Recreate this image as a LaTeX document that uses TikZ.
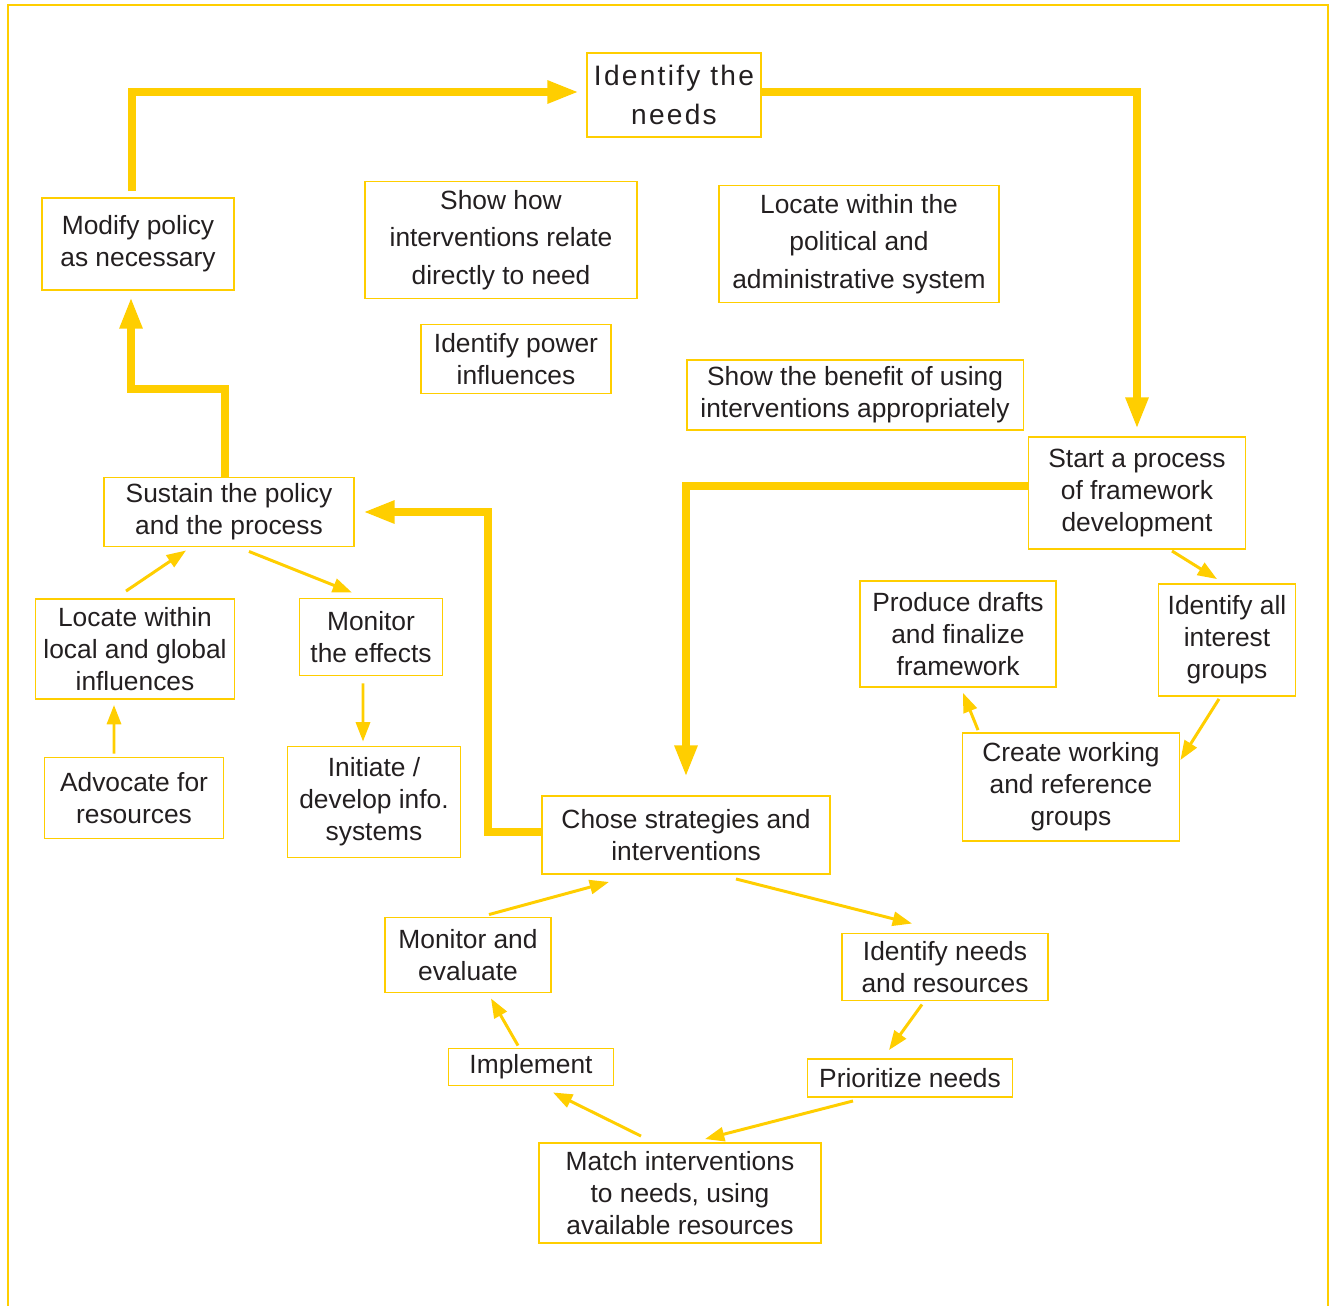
\documentclass[tikz,border=0pt]{standalone}
\usepackage{fontspec}
\setmainfont{Liberation Sans}
\newfontfamily\spacedfont[LetterSpace=8]{Liberation Sans}
\usetikzlibrary{arrows.meta, positioning}
\definecolor{gold}{RGB}{255,206,0}
\definecolor{ink}{RGB}{35,31,32}

\begin{document}
\begin{tikzpicture}[x=0.02cm, y=-0.02cm]
    % Define the style for the boxes and arrows
    \tikzset{
        stepbox/.style={rectangle, draw=gold, line width=1.1pt, inner sep=0pt, text=ink, align=center, font=\fontsize{15}{18.2}\selectfont},
        widebox/.style={stepbox, font=\fontsize{15}{21.3}\selectfont},
        mainflow/.style={draw=gold, line width=4.5pt, -{Triangle[length=18pt, width=12pt]}},
        subflow/.style={draw=gold, line width=1.7pt, -{Triangle[length=11pt, width=8pt]}}
    }
    \useasboundingbox (0,0) rectangle (1330,1306);

    % Draw the frame
    \draw[gold, line width=1.6pt] (8,1306) -- (8,5) -- (1328,5) -- (1328,1306);

    % Draw the main cycle boxes
    \node[stepbox, minimum width=3.48cm, minimum height=1.68cm, font=\spacedfont\fontsize{16}{21.7}\selectfont] (needs) at (674,95) {Identify the\\needs};
    \node[stepbox, minimum width=3.84cm, minimum height=1.84cm] (modify) at (138,244) {Modify policy\\as necessary};
    \node[stepbox, minimum width=4.34cm, minimum height=2.24cm] (start) at (1137,493) {Start a process\\of framework\\development};
    \node[stepbox, minimum width=5.0cm, minimum height=1.38cm] (sustain) at (229,512) {Sustain the policy\\and the process};
    \node[stepbox, minimum width=5.76cm, minimum height=1.56cm] (chose) at (686,835) {Chose strategies and\\interventions};

    % Draw the free standing boxes
    \node[widebox, minimum width=5.44cm, minimum height=2.34cm] (showhow) at (501,240) {Show how\\interventions relate\\directly to need};
    \node[widebox, minimum width=5.6cm, minimum height=2.34cm] (locatepol) at (859,244) {Locate within the\\political and\\administrative system};
    \node[stepbox, minimum width=3.8cm, minimum height=1.38cm] (power) at (516,359) {Identify power\\influences};
    \node[stepbox, minimum width=6.74cm, minimum height=1.4cm] (benefit) at (855,395) {Show the benefit of using\\interventions appropriately};

    % Draw the boxes round the sustain step
    \node[stepbox, minimum width=3.98cm, minimum height=2.0cm] (locateglob) at (135,649) {Locate within\\local and global\\influences};
    \node[stepbox, minimum width=2.86cm, minimum height=1.54cm] (monitorfx) at (371,637) {Monitor\\the effects};
    \node[stepbox, minimum width=3.58cm, minimum height=1.62cm] (advocate) at (134,798) {Advocate for\\resources};
    \node[stepbox, minimum width=3.46cm, minimum height=2.22cm] (initiate) at (374,802) {Initiate /\\develop info.\\systems};

    % Draw the boxes round the framework step
    \node[stepbox, minimum width=3.92cm, minimum height=2.12cm] (drafts) at (958,634) {Produce drafts\\and finalize\\framework};
    \node[stepbox, minimum width=2.74cm, minimum height=2.24cm] (interest) at (1227,640) {Identify all\\interest\\groups};
    \node[stepbox, minimum width=4.34cm, minimum height=2.16cm] (working) at (1071,787) {Create working\\and reference\\groups};

    % Draw the boxes of the lower cycle
    \node[stepbox, minimum width=3.32cm, minimum height=1.5cm] (evaluate) at (468,955) {Monitor and\\evaluate};
    \node[stepbox, minimum width=4.12cm, minimum height=1.34cm] (needsres) at (945,967) {Identify needs\\and resources};
    \node[stepbox, minimum width=3.3cm, minimum height=0.74cm] (implement) at (531,1067) {Implement};
    \node[stepbox, minimum width=4.1cm, minimum height=0.76cm] (prioritize) at (910,1078) {Prioritize needs};
    \node[stepbox, minimum width=5.64cm, minimum height=2.0cm] (match) at (680,1193) {Match interventions\\to needs, using\\available resources};

    % Draw the thick arrows
    \draw[mainflow, shorten >=0.14cm] ([xshift=-0.12cm, yshift=0.12cm]modify.north) |- ([yshift=0.06cm]needs.west);
    \draw[mainflow, shorten >=0.14cm] ([yshift=0.06cm]needs.east) -| (start.north);
    \draw[mainflow, shorten >=0.36cm] ([yshift=0.14cm]start.west) -| (chose.north);
    \draw[mainflow, shorten >=0.16cm] ([yshift=0.06cm]chose.west) -- ++(-53,0) |- (sustain.east);
    \draw[mainflow, shorten >=0.12cm] ([xshift=-0.08cm]sustain.north) -- ++(0,-88) -| ([xshift=-0.14cm]modify.south);

    % Draw the thin arrows
    \draw[subflow] ([xshift=-0.18cm, yshift=0.14cm]locateglob.north) -- ([xshift=-0.86cm, yshift=-0.06cm]sustain.south);
    \draw[subflow] ([xshift=0.4cm, yshift=-0.08cm]sustain.south) -- ([xshift=-0.38cm, yshift=0.1cm]monitorfx.north);
    \draw[subflow] ([xshift=-0.16cm, yshift=-0.14cm]monitorfx.south) -- ([xshift=-0.22cm, yshift=0.08cm]initiate.north);
    \draw[subflow] ([xshift=-0.4cm, yshift=0.06cm]advocate.north) -- ([xshift=-0.42cm, yshift=-0.1cm]locateglob.south);
    \draw[subflow] ([xshift=0.7cm, yshift=-0.02cm]start.south) -- ([xshift=-0.2cm, yshift=0.08cm]interest.north);
    \draw[subflow] ([xshift=-0.16cm, yshift=-0.04cm]interest.south) -- ([yshift=0.54cm]working.east);
    \draw[subflow] ([xshift=-1.86cm, yshift=0.04cm]working.north) -- ([xshift=0.1cm, yshift=-0.1cm]drafts.south);
    \draw[subflow] ([xshift=1.0cm, yshift=-0.08cm]chose.south) -- ([xshift=-0.66cm, yshift=0.18cm]needsres.north);
    \draw[subflow] ([xshift=-0.46cm, yshift=-0.06cm]needsres.south) -- ([xshift=-0.42cm, yshift=0.16cm]prioritize.north);
    \draw[subflow] ([xshift=-1.14cm, yshift=-0.06cm]prioritize.south) -- ([xshift=0.5cm, yshift=0.06cm]match.north);
    \draw[subflow] ([xshift=-0.78cm, yshift=0.12cm]match.north) -- ([xshift=0.44cm, yshift=-0.12cm]implement.south);
    \draw[subflow] ([xshift=-0.26cm, yshift=0.04cm]implement.north) -- ([xshift=0.46cm, yshift=-0.1cm]evaluate.south);
    \draw[subflow] ([xshift=0.42cm, yshift=0.04cm]evaluate.north) -- ([xshift=-1.54cm, yshift=-0.14cm]chose.south);
\end{tikzpicture}
\end{document}
